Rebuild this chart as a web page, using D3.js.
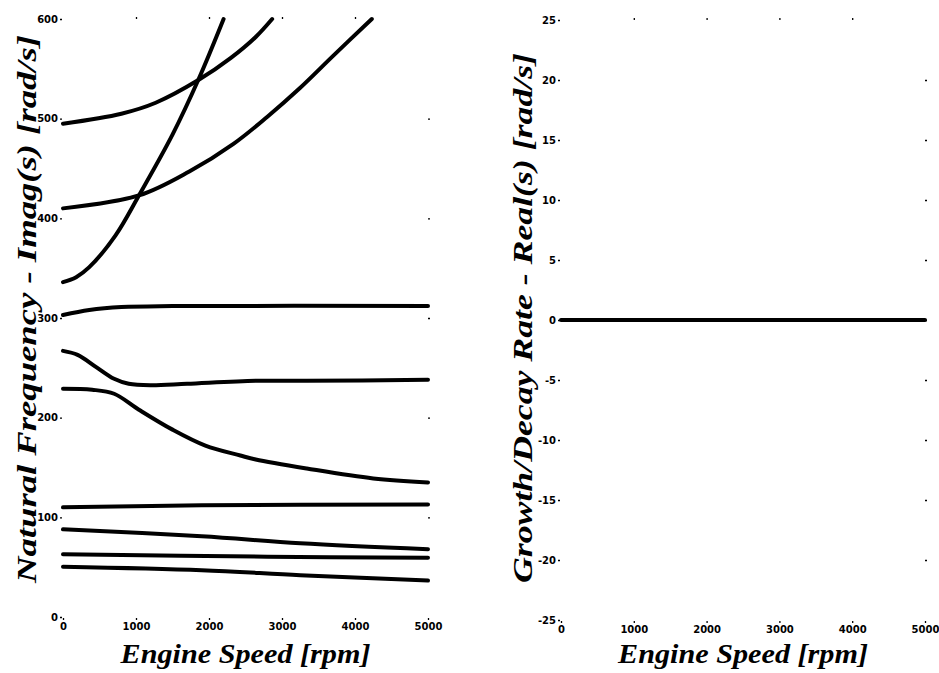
<!DOCTYPE html>
<html>
<head>
<meta charset="utf-8">
<script src="https://cdn.jsdelivr.net/npm/d3@7"></script>
<style>
  body { margin: 0; background: #fff; }
  .tick text { font-family: "DejaVu Sans", sans-serif; font-weight: bold; font-size: 10px; fill: #000; }
  .tick line { stroke: #000; stroke-width: 1.3; }
  .domain { display: none; }
  .title { font-family: "Liberation Serif", serif; font-style: italic; font-weight: bold; fill: #000; }
</style>
</head>
<body>
<svg width="939" height="673"></svg>
<script>
// engine speed ticks, rpm
var rpmTicks = [0, 1000, 2000, 3000, 4000, 5000];
var freqTicks = [0, 100, 200, 300, 400, 500, 600];
var rateTicks = [-25, -20, -15, -10, -5, 0, 5, 10, 15, 20, 25];

// natural frequencies (imag part), [rpm, rad/s]
var mode1 = [[0,495],[800,505],[1270,516],[1860,539],[2300,561],[2640,582],[2865,600]];
var mode2 = [[0,410],[1040,423],[1730,447],[2340,475],[2800,502],[3250,531],[3700,563],[4230,600]];
var mode3 = [[0,336],[180,341],[360,351],[720,383],[1040,423],[1500,484],[1860,540],[2200,600]];
var mode4 = [[0,303],[360,308],[800,311],[1500,312],[5000,312]];
var mode5 = [[0,267],[200,263],[450,251],[700,239],[900,234],[1200,232.5],[1700,234],[2640,237],[3340,237],[5000,238]];
var mode6 = [[0,229],[400,228],[700,224],[1040,208],[1500,188],[1950,172],[2430,162],[2640,158],[3340,149],[4250,139],[5000,135]];
var mode7 = [[0,110],[1900,112],[5000,113]];
var mode8 = [[0,88],[1900,81],[3250,74],[5000,68]];
var mode9 = [[0,63],[2800,60.5],[5000,59.5]];
var mode10 = [[0,50.5],[1900,47],[3250,42],[5000,36.5]];
var freqModes = [mode1, mode2, mode3, mode4, mode5, mode6, mode7, mode8, mode9, mode10];

// growth/decay rates (real part), [rpm, rad/s]
var realAll = [[0,0],[5000,0]];
var rateModes = [realAll];

var svg = d3.select("svg");

// plain hyphen for negatives, like the scan
var fmt = function(d){ return String(d); };

var drawPanel = function(x0, x1, y0, y1, yDomain, yTicks, series, yTitle)
{
  var x = d3.scaleLinear().domain([0, 5000]).range([x0, x1]);
  var y = d3.scaleLinear().domain(yDomain).range([y1, y0]);

  var g = svg.append("g");

  g.append("g")
    .attr("transform", "translate(0," + (y1 + 1) + ")")
    .call(d3.axisBottom(x).tickValues(rpmTicks).tickSize(2).tickPadding(3).tickFormat(fmt));

  g.append("g")
    .attr("transform", "translate(" + (x0 - 1) + ",0)")
    .call(d3.axisLeft(y).tickValues(yTicks).tickSize(2).tickPadding(2).tickFormat(fmt));

  // faint frame ticks on top and right
  g.append("g")
    .attr("transform", "translate(0," + y0 + ")")
    .call(d3.axisTop(x).tickValues(rpmTicks.slice(1, 5)).tickSize(2).tickFormat(""));
  g.append("g")
    .attr("transform", "translate(" + x1 + ",0)")
    .call(d3.axisRight(y).tickValues(yTicks.slice(1, yTicks.length - 1)).tickSize(2).tickFormat(""));

  var line = d3.line()
    .x(function(d){ return x(d[0]); })
    .y(function(d){ return y(d[1]); })
    .curve(d3.curveCatmullRom.alpha(0.5));

  g.selectAll("path.mode")
    .data(series)
    .enter()
    .append("path")
    .attr("class", "mode")
    .attr("d", line)
    .attr("fill", "none")
    .attr("stroke", "#000")
    .attr("stroke-width", 4)
    .attr("stroke-linecap", "round");

  g.append("text")
    .attr("class", "title")
    .attr("x", (x0 + x1) / 2)
    .attr("y", 663)
    .attr("text-anchor", "middle")
    .attr("font-size", "27px")
    .attr("textLength", 250)
    .attr("lengthAdjust", "spacingAndGlyphs")
    .text("Engine Speed [rpm]");

  g.append("text")
    .attr("class", "title")
    .attr("transform", "translate(" + yTitle.bx + "," + yTitle.cy + ") rotate(-90)")
    .attr("text-anchor", "middle")
    .attr("font-size", "27px")
    .attr("textLength", yTitle.len)
    .attr("lengthAdjust", "spacingAndGlyphs")
    .text(yTitle.text);
}

drawPanel(63, 428, 19, 617, [0, 600], freqTicks, freqModes,
  {text: "Natural Frequency  -  Imag(s) [rad/s]", len: 548, bx: 36, cy: 309});
drawPanel(561, 925, 20, 620, [-25, 25], rateTicks, rateModes,
  {text: "Growth/Decay Rate  -  Real(s) [rad/s]", len: 530, bx: 532, cy: 318});
</script>
</body>
</html>
